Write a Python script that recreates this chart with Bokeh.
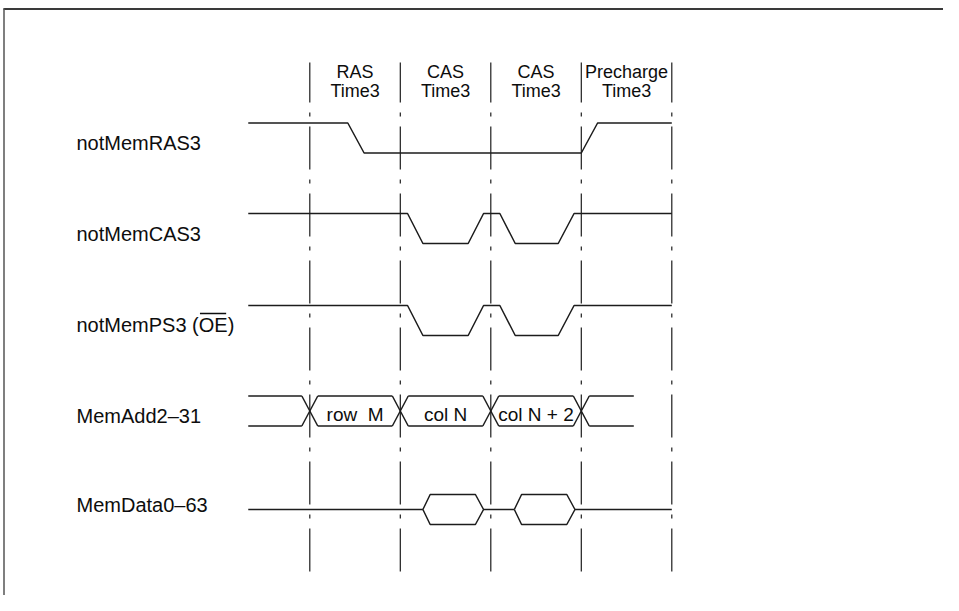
from bokeh.plotting import figure
from bokeh.models import Range1d
from bokeh.core.properties import value
from bokeh.embed import file_html
from bokeh.resources import INLINE

# ---------------- data (time in bus-cycle units; cycle boundaries at 0..4) ----------------
boundaries = [0, 1, 2, 3, 4]
phase_names = ["RAS", "CAS", "CAS", "Precharge"]
phase_sub = ["Time3", "Time3", "Time3", "Time3"]

signal_labels = ["notMemRAS3", "notMemCAS3", "notMemPS3 (OE)", "MemAdd2\u201331", "MemData0\u201363"]

ras_t = [-0.68, 0.42, 0.60, 3.00, 3.18, 4.00]
ras_lv = [1, 1, 0, 0, 1, 1]

cas_t = [-0.68, 1.08, 1.25, 1.75, 1.92, 2.10, 2.27, 2.745, 2.92, 4.00]
cas_lv = [1, 1, 0, 0, 1, 1, 0, 0, 1, 1]

ps_t = [-0.68, 1.08, 1.25, 1.75, 1.92, 2.10, 2.27, 2.745, 2.92, 4.00]
ps_lv = [1, 1, 0, 0, 1, 1, 0, 0, 1, 1]

addr_start, addr_end = -0.68, 3.58
addr_cross = [0, 1, 2, 3]
addr_values = ["row \u00a0M", "col N", "col N + 2"]

data_start, data_end = -0.68, 4.00
data_windows = [(1.25, 1.33, 1.83, 1.92), (2.26, 2.34, 2.84, 2.93)]

# ---------------- layout ----------------
W, H = 943, 595
X0, PX_PER_T = 309.3, 90.5
def t_of(px):
    return (px - X0) / PX_PER_T

ROW_MID = [137.5, 228, 320, 410.5, 509]
HALF = 15
LABEL_X = t_of(76)
LABEL_Y = [142, 233.5, 324, 415.5, 504]      # visual centres of the row labels
HEAD_Y = [71.5, 90.5]
BUS_TEXT_Y = 414
OVERLINE_Y = 313
CROSS_HALF = 0.088
INK = "#1c1c1c"
TXT = "#0d0d0d"
FONT = value("Liberation Sans")

p = figure(width=W, height=H, x_range=Range1d(t_of(0), t_of(W)),
           y_range=Range1d(H, 0), output_backend="svg", toolbar_location=None,
           min_border=0, x_axis_location=None, y_axis_location=None)
p.grid.visible = False
p.outline_line_color = None
p.background_fill_color = "white"
p.border_fill_color = "white"

# page frame (top and left rules)
p.line([t_of(3), t_of(W)], [8.5, 8.5], line_color="#3a3a3a", line_width=2)
p.line([t_of(3.5), t_of(3.5)], [8, H], line_color="#555555", line_width=1.5)

# cycle boundary lines (dash-dot)
p.segment(x0=boundaries, y0=[62] * len(boundaries), x1=boundaries, y1=[572] * len(boundaries),
          line_color=INK, line_width=1.2, line_dash="43 10 4 10", line_dash_offset=3)

# header texts
centers = [b + 0.5 for b in boundaries[:-1]]
p.text(x=centers, y=[HEAD_Y[0]] * 4, text=phase_names, text_align="center",
       text_baseline="alphabetic", text_font=FONT, text_font_size="18px", text_color=TXT)
p.text(x=centers, y=[HEAD_Y[1]] * 4, text=phase_sub, text_align="center",
       text_baseline="alphabetic", text_font=FONT, text_font_size="18px", text_color=TXT)

# signal labels
p.text(x=[LABEL_X] * 5, y=LABEL_Y, text=signal_labels, text_align="left",
       text_baseline="alphabetic", text_font=FONT, text_font_size="20px", text_color=TXT)
# overline on OE (active-low)
fs = 20
pre_w = (0.556 + 0.556 + 0.278 + 0.833 + 0.556 + 0.833 + 0.667 + 0.667 + 0.556 + 0.278 + 0.333) * fs
oe_w = (0.778 + 0.667) * fs
ox0 = 76 + pre_w + 1.2
ox1 = 76 + pre_w + oe_w - 1.5
p.line([t_of(ox0), t_of(ox1)], [OVERLINE_Y] * 2, line_color=TXT, line_width=1.3)

def lv_y(row, lv):
    return ROW_MID[row] - HALF * (2 * lv - 1)

# control signals
for row, (ts, lvs) in enumerate([(ras_t, ras_lv), (cas_t, cas_lv), (ps_t, ps_lv)]):
    p.line(ts, [lv_y(row, v) for v in lvs], line_color=INK, line_width=1.5)

# address bus
r = 3
up, lo = lv_y(r, 1), lv_y(r, 0)
edges = [addr_start] + [c for c in addr_cross for _ in (0, 1)] + [addr_end]
xs, ys = [], []
for i in range(0, len(edges), 2):
    a = edges[i] if i == 0 else edges[i] + CROSS_HALF
    b = edges[i + 1] if i + 1 == len(edges) - 1 else edges[i + 1] - CROSS_HALF
    xs += [[a, b], [a, b]]
    ys += [[up, up], [lo, lo]]
for c in addr_cross:
    xs += [[c - CROSS_HALF, c + CROSS_HALF], [c - CROSS_HALF, c + CROSS_HALF]]
    ys += [[up, lo], [lo, up]]
p.multi_line(xs, ys, line_color=INK, line_width=1.5)
p.text(x=[addr_cross[i] + 0.5 for i in range(3)], y=[BUS_TEXT_Y] * 3, text=addr_values,
       text_align="center", text_baseline="alphabetic", text_font=FONT,
       text_font_size="19px", text_color=TXT)

# data bus
r = 4
mid, up, lo = ROW_MID[r], lv_y(r, 1), lv_y(r, 0)
seg_x, seg_y = [], []
prev = data_start
for (a, b, c, d) in data_windows:
    seg_x.append([prev, a]); seg_y.append([mid, mid])
    prev = d
seg_x.append([prev, data_end]); seg_y.append([mid, mid])
p.multi_line(seg_x, seg_y, line_color=INK, line_width=1.5)
hx = [[a, b, c, d, c, b, a] for (a, b, c, d) in data_windows]
hy = [[mid, up, up, mid, lo, lo, mid] for _ in data_windows]
p.multi_line(hx, hy, line_color=INK, line_width=1.5)

open("out.html", "w").write(file_html(p, INLINE))
